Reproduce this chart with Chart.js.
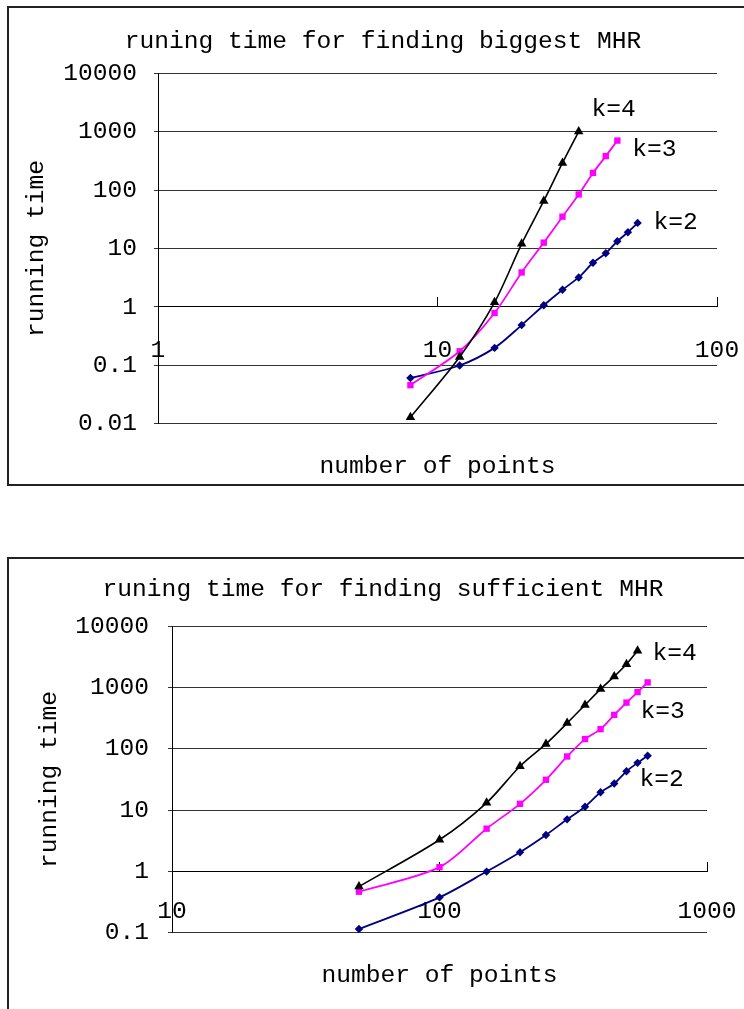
<!DOCTYPE html>
<html>
<head>
<meta charset="utf-8">
<script src="https://cdn.jsdelivr.net/npm/chart.js@4/dist/chart.umd.min.js"></script>
<style>
  html, body { margin: 0; padding: 0; background: #fff; width: 744px; height: 1009px; overflow: hidden; }
  .box { position: absolute; left: 7px; border: 2px solid #222; background: #fff; }
  canvas { display: block; }
</style>
</head>
<body>
<div class="box" style="top:6px"><canvas id="biggest" width="748" height="476"></canvas></div>
<div class="box" style="top:557px"><canvas id="sufficient" width="748" height="470"></canvas></div>
<script>
'use strict';

// --- data ---
// top chart: running time for finding biggest MHR
const biggestPoints = [8, 12, 16, 20, 24, 28, 32, 36, 40, 44, 48, 52];
const biggestK4 = [0.013, 0.14, 1.2, 12, 65, 290, 1000];
const biggestK3 = [0.046, 0.175, 0.79, 3.9, 12.6, 35, 84, 196, 380, 700];
const biggestK2 = [0.061, 0.1, 0.2, 0.49, 1.07, 1.97, 3.2, 5.7, 8.3, 13.3, 19, 27.4];
const biggestXTicks = [1, 10, 100];
const biggestYTicks = [0.01, 0.1, 1, 10, 100, 1000, 10000];

// bottom chart: running time for finding sufficient MHR
const sufficientPoints = [50, 100, 150, 200, 250, 300, 350, 400, 450, 500, 550, 600];
const sufficientK4 = [0.57, 3.3, 13.2, 52, 120, 262, 519, 940, 1510, 2390, 3940];
const sufficientK3 = [0.47, 1.18, 5.0, 12.7, 31.3, 75, 144, 209, 357, 566, 840, 1206];
const sufficientK2 = [0.116, 0.38, 1.0, 2.07, 3.95, 7.1, 11.4, 19.6, 27.2, 43, 59, 77];
const sufficientXTicks = [10, 100, 1000];
const sufficientYTicks = [0.1, 1, 10, 100, 1000, 10000];

const FAMILY = "'Liberation Mono', 'DejaVu Sans Mono', monospace";
const FONT_SIZE = 24.6;
const font = { family: FAMILY, size: FONT_SIZE, weight: 'normal' };

const STYLES = {
  'k=4': { color: '#000000', pointStyle: 'triangle', radius: 5.5, width: 1.6 },
  'k=3': { color: '#ff00ff', pointStyle: 'rect', radius: 4.5, width: 1.8 },
  'k=2': { color: '#000080', pointStyle: 'rectRot', radius: 4.2, width: 1.8 }
};

function series(label, xs, ys) {
  const st = STYLES[label];
  return {
    label,
    data: ys.map((y, i) => ({ x: xs[i], y })),
    borderColor: st.color,
    backgroundColor: st.color,
    pointStyle: st.pointStyle,
    pointRadius: st.radius,
    pointBorderWidth: 0,
    borderWidth: st.width,
    tension: 0.3
  };
}

// writes "k=4" etc. beside the last point of each series
const endTags = {
  id: 'endTags',
  afterDatasetsDraw(chart, args, opts) {
    const ctx = chart.ctx;
    ctx.save();
    ctx.font = FONT_SIZE + 'px ' + FAMILY;
    ctx.fillStyle = '#000';
    ctx.textAlign = 'center';
    ctx.textBaseline = 'middle';
    chart.data.datasets.forEach((ds, i) => {
      const pts = chart.getDatasetMeta(i).data;
      const last = pts[pts.length - 1];
      const off = opts.offsets[i] || [30, 0];
      ctx.fillText(ds.label, last.x + off[0], last.y + off[1]);
    });
    ctx.restore();
  }
};

function makeChart(canvasId, cfg) {
  return new Chart(document.getElementById(canvasId), {
    type: 'line',
    data: { datasets: cfg.datasets },
    plugins: [endTags],
    options: {
      responsive: false,
      animation: false,
      layout: { padding: 0 },
      plugins: {
        legend: { display: false },
        tooltip: { enabled: false },
        title: {
          display: true, text: cfg.title, color: '#000', font,
          padding: cfg.titlePad
        },
        subtitle: {
          display: true, text: 'number of points', position: 'bottom', fullSize: false,
          color: '#000', font, padding: cfg.xTitlePad
        },
        endTags: { offsets: cfg.tagOffsets }
      },
      scales: {
        x: {
          type: 'logarithmic', min: cfg.xTicks[0], max: cfg.xTicks[cfg.xTicks.length - 1],
          position: { y: 1 },
          afterBuildTicks: s => { s.ticks = cfg.xTicks.map(v => ({ value: v })); },
          // labels sit far below the axis line; don't let that eat the plot width
          afterFit: s => { s.paddingLeft = 0; s.paddingRight = 0; },
          ticks: {
            autoSkip: false, maxRotation: 0, padding: cfg.xTickPad,
            color: '#000', font, callback: v => String(v)
          },
          grid: { drawOnChartArea: false, tickLength: -10, color: '#000' },
          border: { color: '#000', width: 1 }
        },
        y: {
          type: 'logarithmic', min: cfg.yTicks[0], max: cfg.yTicks[cfg.yTicks.length - 1],
          afterBuildTicks: s => { s.ticks = cfg.yTicks.map(v => ({ value: v })); },
          afterFit: s => { s.width = cfg.plotLeft; },
          ticks: { padding: cfg.yTickPad, color: '#000', font, callback: v => String(v) },
          grid: { color: '#333', tickLength: 4 },
          border: { color: '#000', width: 1 },
          title: {
            display: true, text: 'running time', color: '#000', font,
            padding: { top: cfg.yTitlePad, bottom: 0 }
          }
        },
        // empty space on the right so the plot ends where it does in the picture
        gap: {
          position: 'right', display: true,
          afterFit: s => { s.width = cfg.rightGap; },
          ticks: { display: false },
          grid: { display: false },
          border: { display: false }
        }
      }
    }
  });
}

makeChart('biggest', {
  title: 'runing time for finding biggest MHR',
  datasets: [
    series('k=4', biggestPoints, biggestK4),
    series('k=3', biggestPoints, biggestK3),
    series('k=2', biggestPoints, biggestK2)
  ],
  xTicks: biggestXTicks,
  yTicks: biggestYTicks,
  plotLeft: 149,
  rightGap: 40,
  titlePad: { top: 19.2, bottom: 16.3 },
  xTitlePad: { top: 27.3, bottom: 3.2 },
  xTickPad: 38.5,
  yTickPad: 17,
  yTitlePad: 13.2,
  tagOffsets: [[35, -22], [37, 9], [38, 0]]
});

makeChart('sufficient', {
  title: 'runing time for finding sufficient MHR',
  datasets: [
    series('k=4', sufficientPoints, sufficientK4),
    series('k=3', sufficientPoints, sufficientK3),
    series('k=2', sufficientPoints, sufficientK2)
  ],
  xTicks: sufficientXTicks,
  yTicks: sufficientYTicks,
  plotLeft: 163,
  rightGap: 50,
  titlePad: { top: 16.2, bottom: 21.3 },
  xTitlePad: { top: 27.3, bottom: 39.2 },
  xTickPad: 35.2,
  yTickPad: 19,
  yTitlePad: 26,
  tagOffsets: [[37, 3], [15, 29], [14, 24]]
});
</script>
</body>
</html>
